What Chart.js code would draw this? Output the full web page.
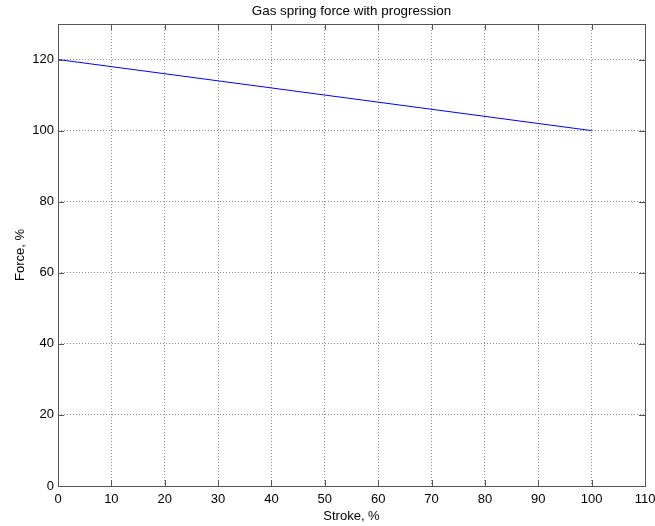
<!DOCTYPE html>
<html>
<head>
<meta charset="utf-8">
<script src="https://cdn.jsdelivr.net/npm/chart.js@4/dist/chart.umd.min.js"></script>
<style>
  html, body { margin: 0; padding: 0; background: #fff; }
  #wrap { width: 655px; height: 526px; }
</style>
</head>
<body>
<div id="wrap"><canvas id="c" width="655" height="526"></canvas></div>
<script>
// Stroke positions (%) and the matching gas spring force (%)
const stroke = [0, 100];
const force = [120, 100];
const xTicks = [0, 10, 20, 30, 40, 50, 60, 70, 80, 90, 100, 110];
const yTicks = [0, 20, 40, 60, 80, 100, 120];
const xRange = [0, 110];
const yRange = [0, 130];

const FONT = 'Liberation Sans, Arial, Helvetica, sans-serif';

// Frame around the plot area plus inward tick marks on all four sides
const boxPlugin = {
  id: 'boxTicks',
  afterDatasetsDraw(chart) {
    const { ctx, chartArea: a, scales } = chart;
    const len = 6;
    ctx.save();
    ctx.strokeStyle = '#555';
    ctx.lineWidth = 1;
    ctx.beginPath();
    xTicks.forEach(v => {
      const x = Math.round(scales.x.getPixelForValue(v)) + 0.5;
      ctx.moveTo(x, a.bottom); ctx.lineTo(x, a.bottom - len);
      ctx.moveTo(x, a.top); ctx.lineTo(x, a.top + len);
    });
    yTicks.forEach(v => {
      const y = Math.round(scales.y.getPixelForValue(v)) + 0.5;
      ctx.moveTo(a.left, y); ctx.lineTo(a.left + len, y);
      ctx.moveTo(a.right, y); ctx.lineTo(a.right - len, y);
    });
    ctx.stroke();
    ctx.strokeRect(Math.round(a.left) + 0.5, Math.round(a.top) + 0.5,
                   Math.round(a.right - a.left), Math.round(a.bottom - a.top));
    ctx.restore();
  }
};

new Chart(document.getElementById('c'), {
  type: 'scatter',
  data: {
    datasets: [{
      data: stroke.map((s, i) => ({ x: s, y: force[i] })),
      showLine: true,
      borderColor: '#0000ff',
      borderWidth: 1,
      pointRadius: 0,
      fill: false,
      tension: 0
    }]
  },
  options: {
    responsive: false,
    animation: false,
    layout: { padding: { left: 0, right: 10, top: 0, bottom: 0 } },
    plugins: {
      legend: { display: false },
      tooltip: { enabled: false },
      title: {
        display: true,
        fullSize: false,
        text: 'Gas spring force with progression',
        color: '#000',
        font: { family: FONT, size: 13.4, weight: 'normal', lineHeight: 1.2 },
        padding: { top: 3, bottom: 4.9 }
      }
    },
    scales: {
      x: {
        type: 'linear',
        min: xRange[0], max: xRange[1],
        afterBuildTicks: s => { s.ticks = xTicks.map(v => ({ value: v })); },
        afterFit: s => { s.height = 40; s.paddingLeft = 0; s.paddingRight = 0; },
        ticks: { color: '#000', padding: 6, font: { family: FONT, size: 13 }, maxRotation: 0, autoSkip: false },
        grid: { color: '#8a8a8a', lineWidth: 1, drawTicks: false },
        border: { display: false, dash: [1, 2] },
        title: {
          display: true, text: 'Stroke, %', color: '#000',
          font: { family: FONT, size: 13, lineHeight: 1.2 },
          padding: { top: 0, bottom: 2 }
        }
      },
      y: {
        type: 'linear',
        min: yRange[0], max: yRange[1],
        afterBuildTicks: s => { s.ticks = yTicks.map(v => ({ value: v })); },
        afterFit: s => { s.width = 58; s.paddingTop = 0; s.paddingBottom = 0; },
        ticks: { color: '#000', padding: 4, font: { family: FONT, size: 13 } },
        grid: { color: '#8a8a8a', lineWidth: 1, drawTicks: false },
        border: { display: false, dash: [1, 2] },
        title: {
          display: true, text: 'Force, %', color: '#000',
          font: { family: FONT, size: 13, lineHeight: 1.2 },
          padding: { top: 13, bottom: 0 }
        }
      }
    }
  },
  plugins: [boxPlugin]
});
</script>
</body>
</html>
